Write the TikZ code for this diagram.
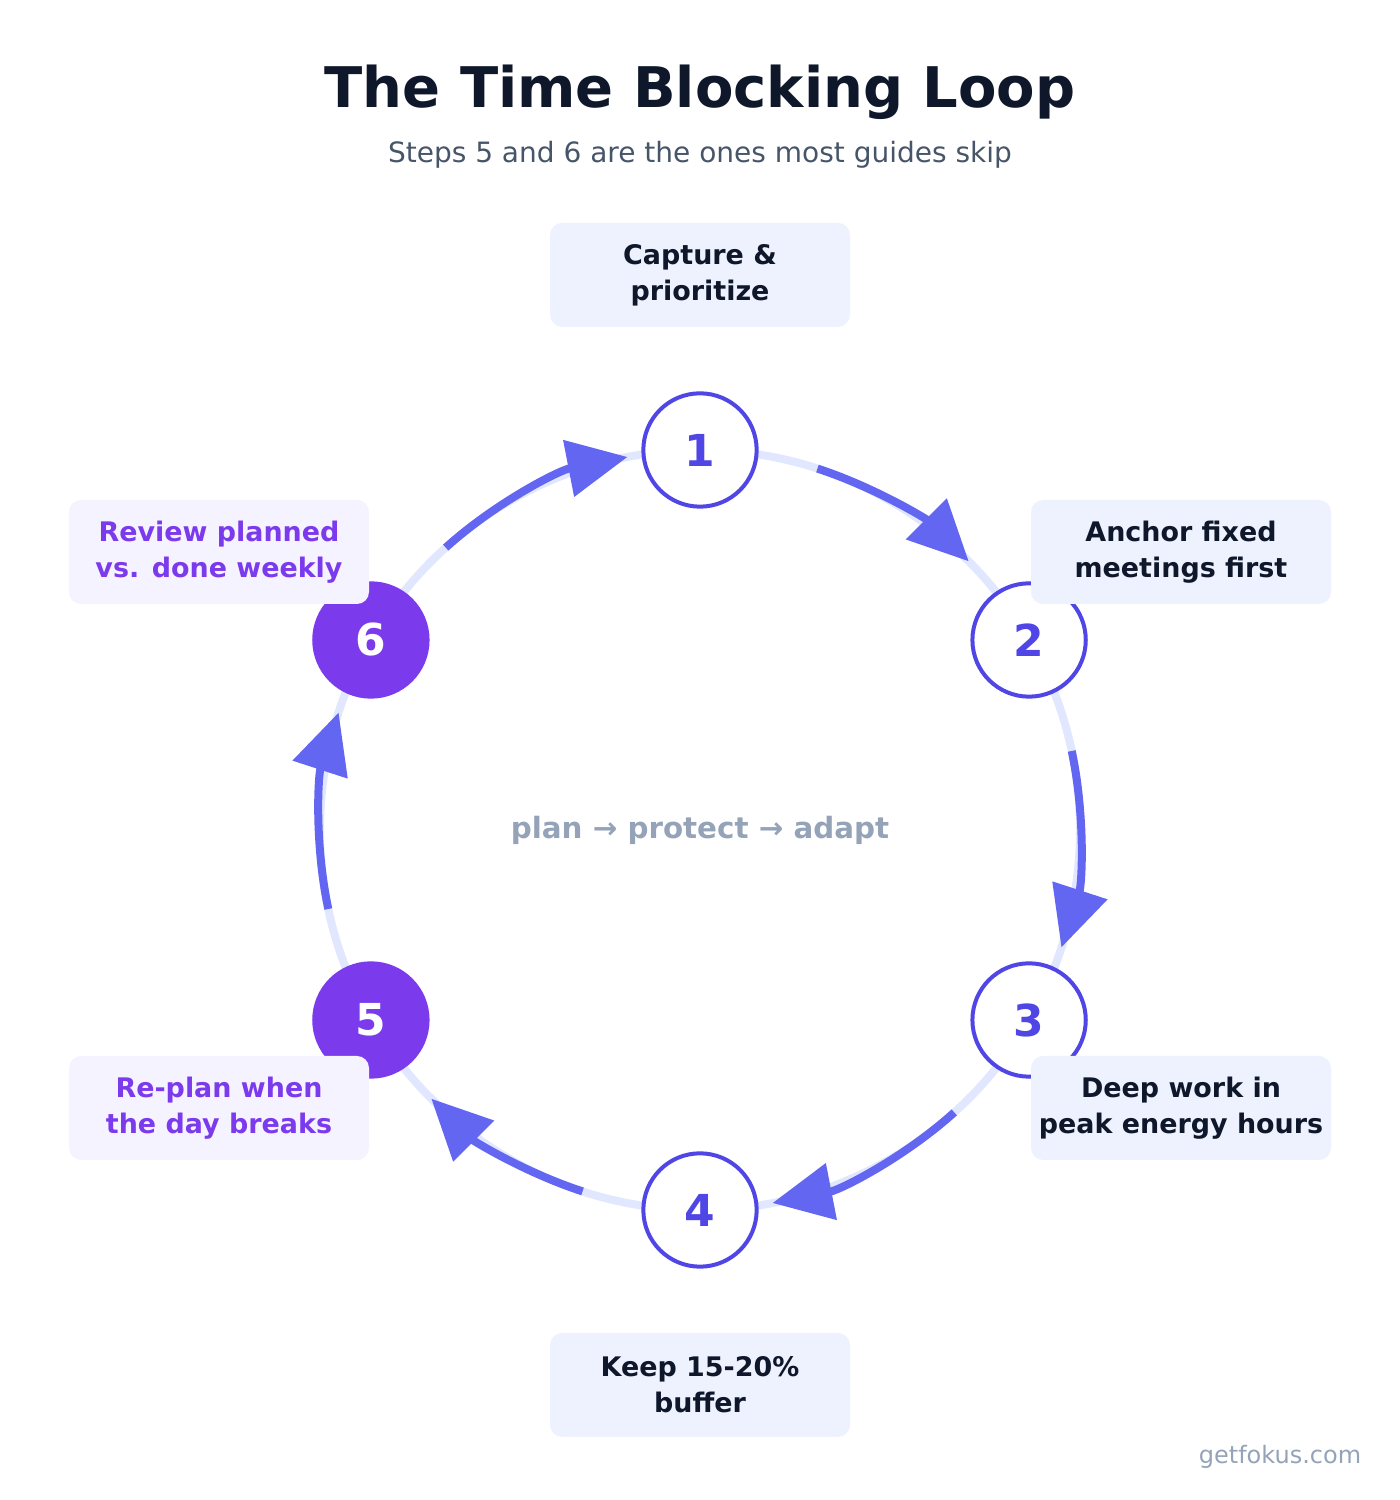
\documentclass[tikz,border=0pt]{standalone}
\usepackage{fontspec}
\setmainfont{DejaVu Sans}
\usetikzlibrary{arrows.meta,calc}
\definecolor{ink}{HTML}{0F172A}
\definecolor{sub}{HTML}{475569}
\definecolor{muted}{HTML}{94A3B8}
\definecolor{track}{HTML}{E0E7FF}
\definecolor{flow}{HTML}{6366F1}
\definecolor{indigo}{HTML}{4F46E5}
\definecolor{violet}{HTML}{7C3AED}
\definecolor{boxblue}{HTML}{EEF2FF}
\definecolor{boxviolet}{HTML}{F5F3FF}
\tikzset{
  stepnode/.style={circle,draw=indigo,line width=3pt,fill=white,text=indigo,
    minimum size=85pt,inner sep=0pt,font=\bfseries\fontsize{33}{33}\selectfont},
  hotnode/.style={stepnode,draw=violet,fill=violet,text=white},
  card/.style={rounded corners=9pt,fill=boxblue,text=ink,minimum width=225pt,
    minimum height=78pt,align=center,font=\bfseries\fontsize{20.2}{27}\selectfont},
  hotcard/.style={card,fill=boxviolet,text=violet},
  flowarc/.style={flow,line width=6pt,-{Triangle[length=45pt,width=42pt]}}
}
\begin{document}
\begin{tikzpicture}[x=0.75pt,y=0.75pt]
\useasboundingbox (0,0) rectangle (1400,1500);
\coordinate (c) at (700,670);
\node (title) at (700,1408) [text=ink,font=\bfseries\fontsize{42}{42}\selectfont] {The Time Blocking Loop};
\node (sub) at (700,1345) [text=sub,font=\fontsize{21}{21}\selectfont] {Steps 5 and 6 are the ones most guides skip};
% track and flow arcs
\draw [track,line width=6pt] (c) circle (380);
\foreach \a/\b in {72/45, 12/-18, -48/-79, -108/-135, -168/-198, 132/101}
  \draw [flowarc] ($(c)+(\a:380)$) arc (\a:\b:380);
% steps
\node (s1) at ($(c)+(90:380)$) [stepnode] {1};
\node (s2) at ($(c)+(30:380)$) [stepnode] {2};
\node (s3) at ($(c)+(-30:380)$) [stepnode] {3};
\node (s4) at ($(c)+(-90:380)$) [stepnode] {4};
\node (s5) at ($(c)+(-150:380)$) [hotnode] {5};
\node (s6) at ($(c)+(150:380)$) [hotnode] {6};
% cards
\node (t1) at (700,1225) [card] {Capture \&\\prioritize};
\node (t2) at (1181,948) [card] {Anchor fixed\\meetings first};
\node (t3) at (1181,392) [card] {Deep work in\\peak energy hours};
\node (t4) at (700,115) [card] {Keep 15-20\%\\buffer};
\node (t5) at (219,392) [hotcard] {Re-plan when\\the day breaks};
\node (t6) at (219,948) [hotcard] {Review planned\\vs. done weekly};
\node (mid) at (c) [text=muted,font=\bfseries\fontsize{22}{22}\selectfont] {plan → protect → adapt};
\node (site) at (1280,43) [text=muted,font=\fontsize{18}{18}\selectfont] {getfokus.com};
\end{tikzpicture}
\end{document}
